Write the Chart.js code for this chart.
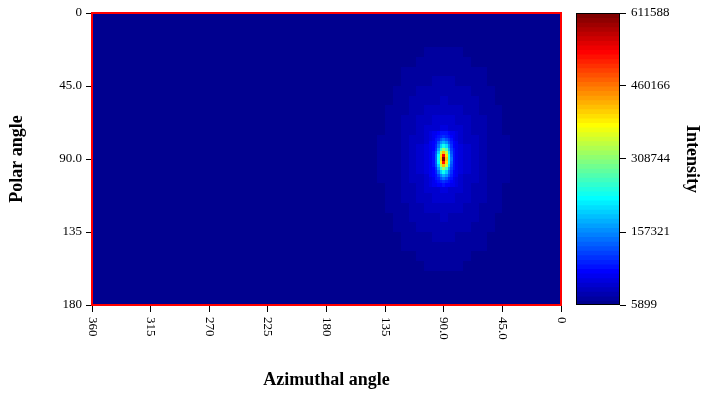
<!DOCTYPE html>
<html>
<head>
<meta charset="utf-8">
<script src="https://cdn.jsdelivr.net/npm/chart.js@4.4.1/dist/chart.umd.min.js"></script>
<style>
  html, body { margin: 0; padding: 0; background: #ffffff; }
  #wrap { position: relative; width: 704px; height: 396px; }
  #map { position: absolute; left: 0; top: 0; }
  #bar { position: absolute; left: 560px; top: 0; }
</style>
</head>
<body>
<div id="wrap">
  <canvas id="map" width="704" height="396"></canvas>
  <canvas id="bar" width="144" height="396"></canvas>
</div>
<script>
// ---- Data -------------------------------------------------------------
const intensityMin = 5899;
const intensityMax = 611588;
const colorbarTicks = [5899, 157321, 308744, 460166, 611588];

const azimuthTicks = [360, 315, 270, 225, 180, 135, 90, 45, 0];
const azimuthTickLabels = ['360', '315', '270', '225', '180', '135', '90.0', '45.0', '0'];
const polarTicks = [0, 45, 90, 135, 180];
const polarTickLabels = ['0', '45.0', '90.0', '135', '180'];

// Flat level over the whole sphere
const backgroundIntensity = 9000;

// Diffuse glow around the spot, 6 degree bins
const glowAzimuths = [36, 42, 48, 54, 60, 66, 72, 78, 84, 90, 96, 102, 108, 114, 120, 126, 132, 138, 144];
const glowPolars = [18, 24, 30, 36, 42, 48, 54, 60, 66, 72, 78, 84, 90, 96, 102, 108, 114, 120, 126, 132, 138, 144, 150, 156, 162];
const glowIntensity = [
  [8000, 8600, 9400, 10200, 11100, 12000, 12900, 13600, 14000, 14200, 14000, 13600, 12900, 12000, 11100, 10200, 9400, 8600, 8000],
  [8400, 9200, 10100, 11200, 12400, 13600, 14600, 15600, 16200, 16400, 16200, 15600, 14600, 13600, 12400, 11200, 10100, 9200, 8400],
  [8800, 9800, 11000, 12300, 13800, 15300, 16700, 17900, 18700, 18900, 18700, 17900, 16700, 15300, 13800, 12300, 11000, 9800, 8800],
  [9400, 10600, 12000, 13600, 15400, 17300, 19100, 20600, 21700, 22100, 21700, 20600, 19100, 17300, 15400, 13600, 12000, 10600, 9400],
  [9900, 11300, 13000, 15000, 17300, 19600, 21900, 23900, 25300, 25700, 25300, 23900, 21900, 19600, 17300, 15000, 13000, 11300, 9900],
  [10500, 12100, 14100, 16500, 19200, 22200, 25100, 27600, 29400, 30000, 29400, 27600, 25100, 22200, 19200, 16500, 14100, 12100, 10500],
  [11100, 12900, 15200, 18100, 21300, 24900, 28600, 31900, 34200, 35100, 34200, 31900, 28600, 24900, 21300, 18100, 15200, 12900, 11100],
  [11600, 13700, 16300, 19600, 23500, 27700, 32300, 36500, 39600, 40700, 39600, 36500, 32300, 27700, 23500, 19600, 16300, 13700, 11600],
  [12100, 14400, 17400, 21000, 25500, 30600, 36100, 41400, 45500, 47100, 45500, 41400, 36100, 30600, 25500, 21000, 17400, 14400, 12100],
  [12500, 15000, 18300, 22300, 27300, 33200, 39700, 46500, 52000, 54300, 52000, 46500, 39700, 33200, 27300, 22300, 18300, 15000, 12500],
  [12800, 15500, 18900, 23400, 28700, 35300, 42800, 51100, 58600, 62200, 58600, 51100, 42800, 35300, 28700, 23400, 18900, 15500, 12800],
  [13000, 15800, 19400, 24000, 29700, 36700, 45000, 54500, 64600, 70800, 64600, 54500, 45000, 36700, 29700, 24000, 19400, 15800, 13000],
  [13100, 15900, 19500, 24200, 30000, 37200, 45800, 55800, 67300, 80000, 67300, 55800, 45800, 37200, 30000, 24200, 19500, 15900, 13100],
  [13000, 15800, 19400, 24000, 29700, 36700, 45000, 54500, 64600, 70800, 64600, 54500, 45000, 36700, 29700, 24000, 19400, 15800, 13000],
  [12800, 15500, 18900, 23400, 28700, 35300, 42800, 51100, 58600, 62200, 58600, 51100, 42800, 35300, 28700, 23400, 18900, 15500, 12800],
  [12500, 15000, 18300, 22300, 27300, 33200, 39700, 46500, 52000, 54300, 52000, 46500, 39700, 33200, 27300, 22300, 18300, 15000, 12500],
  [12100, 14400, 17400, 21000, 25500, 30600, 36100, 41400, 45500, 47100, 45500, 41400, 36100, 30600, 25500, 21000, 17400, 14400, 12100],
  [11600, 13700, 16300, 19600, 23500, 27700, 32300, 36500, 39600, 40700, 39600, 36500, 32300, 27700, 23500, 19600, 16300, 13700, 11600],
  [11100, 12900, 15200, 18100, 21300, 24900, 28600, 31900, 34200, 35100, 34200, 31900, 28600, 24900, 21300, 18100, 15200, 12900, 11100],
  [10500, 12100, 14100, 16500, 19200, 22200, 25100, 27600, 29400, 30000, 29400, 27600, 25100, 22200, 19200, 16500, 14100, 12100, 10500],
  [9900, 11300, 13000, 15000, 17300, 19600, 21900, 23900, 25300, 25700, 25300, 23900, 21900, 19600, 17300, 15000, 13000, 11300, 9900],
  [9400, 10600, 12000, 13600, 15400, 17300, 19100, 20600, 21700, 22100, 21700, 20600, 19100, 17300, 15400, 13600, 12000, 10600, 9400],
  [8800, 9800, 11000, 12300, 13800, 15300, 16700, 17900, 18700, 18900, 18700, 17900, 16700, 15300, 13800, 12300, 11000, 9800, 8800],
  [8400, 9200, 10100, 11200, 12400, 13600, 14600, 15600, 16200, 16400, 16200, 15600, 14600, 13600, 12400, 11200, 10100, 9200, 8400],
  [8000, 8600, 9400, 10200, 11100, 12000, 12900, 13600, 14000, 14200, 14000, 13600, 12900, 12000, 11100, 10200, 9400, 8600, 8000]
];

// Bright spot, 2 degree bins
const peakAzimuths = [80, 82, 84, 86, 88, 90, 92, 94, 96, 98, 100];
const peakPolars = [74, 76, 78, 80, 82, 84, 86, 88, 90, 92, 94, 96, 98, 100, 102, 104, 106];
const peakIntensity = [
  [60000, 64000, 70000, 76000, 82000, 86000, 82000, 76000, 70000, 64000, 60000],
  [61000, 67000, 76000, 88000, 100000, 108000, 98000, 86000, 75000, 66000, 61000],
  [62000, 70000, 84000, 102000, 126000, 142000, 124000, 100000, 82000, 69000, 62000],
  [63000, 74000, 92000, 122000, 162000, 185000, 158000, 120000, 90000, 73000, 63000],
  [64000, 78000, 102000, 148000, 208000, 238000, 204000, 144000, 100000, 77000, 64000],
  [65000, 82000, 114000, 178000, 272000, 318000, 268000, 174000, 110000, 81000, 65000],
  [66000, 86000, 126000, 208000, 342000, 420000, 338000, 204000, 122000, 85000, 66000],
  [67000, 89000, 136000, 234000, 398000, 532000, 394000, 230000, 132000, 88000, 67000],
  [68000, 90000, 140000, 242000, 415000, 611588, 410000, 238000, 138000, 89000, 68000],
  [67000, 89000, 137000, 234000, 395000, 518000, 390000, 230000, 132000, 88000, 67000],
  [66000, 86000, 127000, 208000, 338000, 414000, 334000, 202000, 122000, 85000, 66000],
  [65000, 82000, 114000, 176000, 268000, 314000, 264000, 172000, 110000, 81000, 65000],
  [64000, 78000, 102000, 146000, 204000, 234000, 200000, 142000, 100000, 77000, 64000],
  [63000, 74000, 92000, 120000, 158000, 182000, 154000, 118000, 90000, 73000, 63000],
  [62000, 70000, 84000, 100000, 122000, 140000, 120000, 98000, 82000, 69000, 62000],
  [61000, 67000, 76000, 86000, 98000, 106000, 96000, 85000, 75000, 66000, 61000],
  [60000, 64000, 70000, 75000, 81000, 84000, 80000, 75000, 70000, 64000, 60000]
];

// ---- Colour map (64-step jet) ----------------------------------------
const LEVELS = 64;
function jetLevel(k) {
  const i = k + 1;
  let r = 0, g = 0, b = 0;
  if (i <= 8) { b = 0.5 + i / 16; }
  else if (i <= 24) { g = (i - 8) / 16; b = 1; }
  else if (i <= 40) { r = (i - 24) / 16; g = 1; b = 1 - (i - 24) / 16; }
  else if (i <= 56) { r = 1; g = 1 - (i - 40) / 16; }
  else { r = 1 - (i - 56) / 16; }
  return 'rgb(' + Math.round(r * 255) + ',' + Math.round(g * 255) + ',' + Math.round(b * 255) + ')';
}
function jetColor(v) {
  let k = Math.floor((v - intensityMin) / (intensityMax - intensityMin) * LEVELS);
  k = Math.max(0, Math.min(LEVELS - 1, k));
  return jetLevel(k);
}

// ---- Cell list for the map -------------------------------------------
const cells = [];
cells.push({ az0: 0, az1: 360, p0: 0, p1: 180, v: backgroundIntensity });
glowPolars.forEach((p, r) => glowAzimuths.forEach((a, c) => {
  cells.push({ az0: a - 3, az1: a + 3, p0: p - 3, p1: p + 3, v: glowIntensity[r][c] });
}));
peakPolars.forEach((p, r) => peakAzimuths.forEach((a, c) => {
  cells.push({ az0: a - 1, az1: a + 1, p0: p - 1, p1: p + 1, v: peakIntensity[r][c] });
}));

const serif = "'Liberation Serif', 'Times New Roman', serif";
Chart.defaults.font.family = serif;
Chart.defaults.color = '#000';

const heatmapPlugin = {
  id: 'heatmapCells',
  beforeDatasetsDraw(chart) {
    const { ctx, chartArea: ca } = chart;
    const xs = chart.scales.x, ys = chart.scales.y;
    ctx.save();
    ctx.beginPath();
    ctx.rect(ca.left, ca.top, ca.right - ca.left, ca.bottom - ca.top);
    ctx.clip();
    cells.forEach(cell => {
      const xa = Math.round(xs.getPixelForValue(cell.az0));
      const xb = Math.round(xs.getPixelForValue(cell.az1));
      const ya = Math.round(ys.getPixelForValue(cell.p0));
      const yb = Math.round(ys.getPixelForValue(cell.p1));
      ctx.fillStyle = jetColor(cell.v);
      ctx.fillRect(Math.min(xa, xb), Math.min(ya, yb), Math.abs(xb - xa), Math.abs(yb - ya));
    });
    ctx.restore();
  },
  afterDraw(chart) {
    const { ctx, chartArea: ca } = chart;
    // red frame around the plotting area
    ctx.save();
    ctx.strokeStyle = '#ff0000';
    ctx.lineWidth = 2;
    ctx.strokeRect(ca.left, ca.top, ca.right - ca.left, ca.bottom - ca.top);
    // azimuth tick labels, turned to read downward
    const xs = chart.scales.x;
    ctx.fillStyle = '#000';
    ctx.font = '13px ' + serif;
    ctx.textAlign = 'left';
    ctx.textBaseline = 'middle';
    xs.ticks.forEach((t, i) => {
      const x = xs.getPixelForTick(i);
      ctx.save();
      ctx.translate(x, ca.bottom + 12);
      ctx.rotate(Math.PI / 2);
      ctx.fillText(t.label, 0, 0);
      ctx.restore();
    });
    ctx.restore();
  }
};

new Chart(document.getElementById('map'), {
  type: 'scatter',
  data: { datasets: [] },
  options: {
    responsive: false,
    devicePixelRatio: 1,
    animation: false,
    events: [],
    layout: { padding: { left: 0, top: 13, right: 143, bottom: 0 } },
    plugins: { legend: { display: false }, tooltip: { enabled: false } },
    scales: {
      x: {
        type: 'linear', min: 0, max: 360, reverse: true,
        afterBuildTicks(s) { s.ticks = azimuthTicks.map(v => ({ value: v })); },
        afterFit(s) { s.height = 91; },
        ticks: {
          display: false,
          callback: v => azimuthTickLabels[azimuthTicks.indexOf(v)]
        },
        grid: { drawOnChartArea: false, drawTicks: true, tickLength: 7, color: '#000' },
        border: { display: false },
        title: {
          display: true, text: 'Azimuthal angle', color: '#000',
          font: { family: serif, size: 18, weight: 'bold' },
          padding: { top: 0, bottom: 5 }
        }
      },
      y: {
        type: 'linear', min: 0, max: 180, reverse: true,
        afterBuildTicks(s) { s.ticks = polarTicks.map(v => ({ value: v })); },
        afterFit(s) { s.width = 92; },
        ticks: {
          padding: 4, color: '#000', font: { family: serif, size: 13 },
          callback: v => polarTickLabels[polarTicks.indexOf(v)]
        },
        grid: { drawOnChartArea: false, drawTicks: true, tickLength: 6, color: '#000' },
        border: { display: false },
        title: {
          display: true, text: 'Polar angle', color: '#000',
          font: { family: serif, size: 18, weight: 'bold' },
          padding: { top: 7, bottom: 0 }
        }
      }
    }
  },
  plugins: [heatmapPlugin]
});

// ---- Colour bar --------------------------------------------------------
const step = (intensityMax - intensityMin) / LEVELS;
const bands = [];
for (let k = 0; k < LEVELS; k++) {
  bands.push({ x: 'I', y: [intensityMin + k * step, intensityMin + (k + 1) * step], color: jetLevel(k) });
}

const frameBar = {
  id: 'frameBar',
  afterDatasetsDraw(chart) {
    const { ctx, chartArea: ca } = chart;
    ctx.save();
    ctx.strokeStyle = '#000';
    ctx.lineWidth = 1;
    ctx.strokeRect(Math.round(ca.left) + 0.5, Math.round(ca.top) + 0.5,
      Math.round(ca.right - ca.left) - 1, Math.round(ca.bottom - ca.top) - 1);
    ctx.restore();
  }
};

new Chart(document.getElementById('bar'), {
  type: 'bar',
  data: {
    labels: ['I'],
    datasets: [{
      data: bands.map(b => ({ x: b.x, y: b.y })),
      backgroundColor: bands.map(b => b.color),
      borderWidth: 0,
      inflateAmount: 0.5,
      categoryPercentage: 1,
      barPercentage: 1
    }]
  },
  options: {
    responsive: false,
    devicePixelRatio: 1,
    animation: false,
    events: [],
    layout: { padding: { left: 16, top: 13, right: 0, bottom: 91 } },
    plugins: { legend: { display: false }, tooltip: { enabled: false } },
    scales: {
      x: { display: false, offset: true },
      y: {
        position: 'right',
        min: intensityMin, max: intensityMax,
        afterBuildTicks(s) { s.ticks = colorbarTicks.map(v => ({ value: v })); },
        afterFit(s) { s.width = 84; },
        ticks: {
          padding: 5, color: '#000', font: { family: serif, size: 13 },
          callback: v => String(v)
        },
        grid: { drawOnChartArea: false, drawTicks: true, tickLength: 6, color: '#000' },
        border: { display: false },
        title: {
          display: true, text: 'Intensity', color: '#000',
          font: { family: serif, size: 18, weight: 'bold' },
          padding: { top: 1.5, bottom: 0 }
        }
      }
    }
  },
  plugins: [frameBar]
});
</script>
</body>
</html>
